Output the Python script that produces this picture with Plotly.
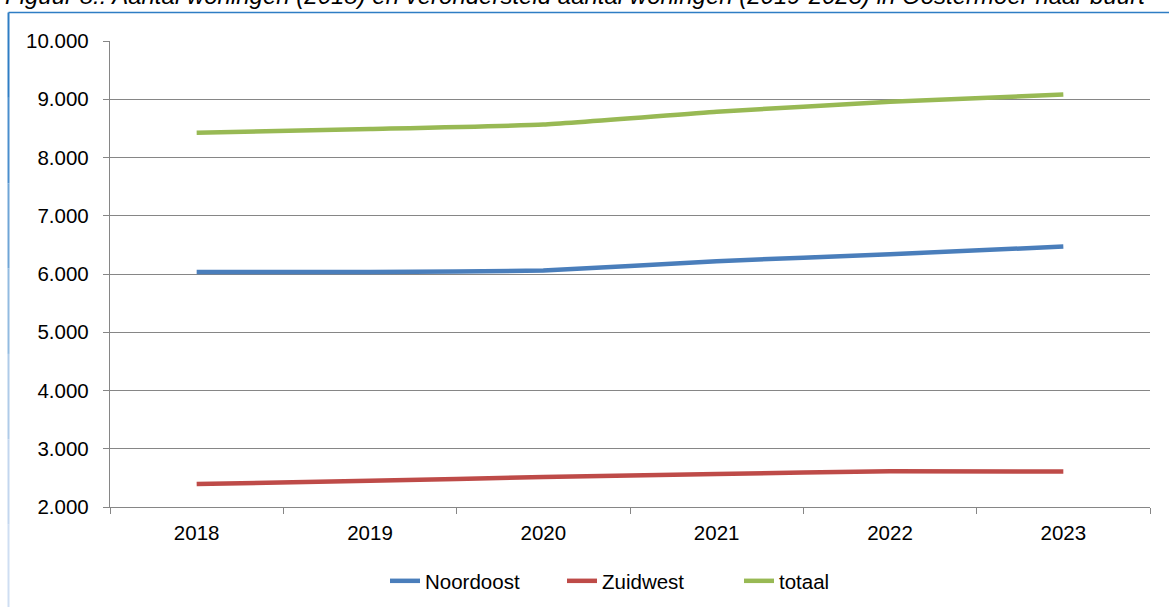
import plotly.graph_objects as go

years = ["2018", "2019", "2020", "2021", "2022", "2023"]
noordoost = [6035, 6035, 6060, 6220, 6340, 6470]
zuidwest = [2395, 2450, 2515, 2565, 2615, 2610]
totaal = [8425, 8490, 8565, 8785, 8955, 9080]
y_ticks = [2000, 3000, 4000, 5000, 6000, 7000, 8000, 9000, 10000]
y_ticklabels = ["2.000", "3.000", "4.000", "5.000", "6.000", "7.000", "8.000", "9.000", "10.000"]
title_text = "Figuur 8.: Aantal woningen (2018) en verondersteld aantal woningen (2019-2023) in Oostermoer naar buurt"

W, H = 1169, 607
L, R, T, B = 110, 19, 41, 100
pw, ph = W - L - R, H - T - B

def px(x):
    return (x - L) / pw

def py(y):
    return (H - B - y) / ph

FONT = "Liberation Sans, Arial, sans-serif"
FS = 20.5

fig = go.Figure()
series = [("Noordoost", noordoost, "#4A7EBB"), ("Zuidwest", zuidwest, "#BE4B48"), ("totaal", totaal, "#98B954")]
for name, vals, col in series:
    fig.add_trace(go.Scatter(x=years, y=vals, name=name, mode="lines",
                             line=dict(color=col, width=4.5, shape="spline", smoothing=0.4)))

shapes = []
# outer frame: blue top line and fading left line
shapes.append(dict(type="line", xref="paper", yref="paper", x0=px(8.5), x1=px(1175), y0=py(12.5), y1=py(12.5),
                   line=dict(color="#2E7DC4", width=1.5)))
fade = ["#2E7DC4", "#4A8ECD", "#6FA5D6", "#92BBE0", "#AFCBE8", "#C3D6EE", "#CFDEF2"]
seg = (610 - 12.5) / len(fade)
for i, c in enumerate(fade):
    shapes.append(dict(type="line", xref="paper", yref="paper", x0=px(8.5), x1=px(8.5),
                       y0=py(12.5 + i * seg), y1=py(12.5 + (i + 1) * seg), line=dict(color=c, width=2)))

fig.update_layout(
    width=W, height=H,
    margin=dict(l=L, r=R, t=T, b=B, autoexpand=False),
    paper_bgcolor="white", plot_bgcolor="white",
    font=dict(family=FONT, size=FS, color="#000000"),
    showlegend=True,
    legend=dict(orientation="h", x=px(385), xanchor="left", y=py(581), yanchor="middle",
                font=dict(size=FS, family=FONT), entrywidth=132, entrywidthmode="pixels",
                traceorder="normal", bgcolor="rgba(0,0,0,0)"),
    xaxis=dict(type="category", tickson="boundaries", ticks="outside", ticklen=6,
               tickcolor="#868686", tickwidth=1.3, showline=True, linecolor="#868686", linewidth=1.3,
               showgrid=False, tickfont=dict(size=FS), ticklabelstandoff=7,
               range=[-0.5, 5.5]),
    yaxis=dict(range=[2000, 10000], tickvals=y_ticks, ticktext=y_ticklabels, ticks="outside", ticklen=6,
               tickcolor="#868686", tickwidth=1.3, showline=True, linecolor="#868686", linewidth=1.3,
               showgrid=True, gridcolor="#868686", gridwidth=1.3, zeroline=False,
               tickfont=dict(size=FS), ticklabelstandoff=10),
    shapes=shapes,
    annotations=[dict(text="<i>" + title_text + "</i>", xref="paper", yref="paper", x=px(3), y=py(-5),
                      xanchor="left", yanchor="middle", showarrow=False,
                      font=dict(size=24, family=FONT, color="#000000"))],
)

fig.write_html("out.html")
